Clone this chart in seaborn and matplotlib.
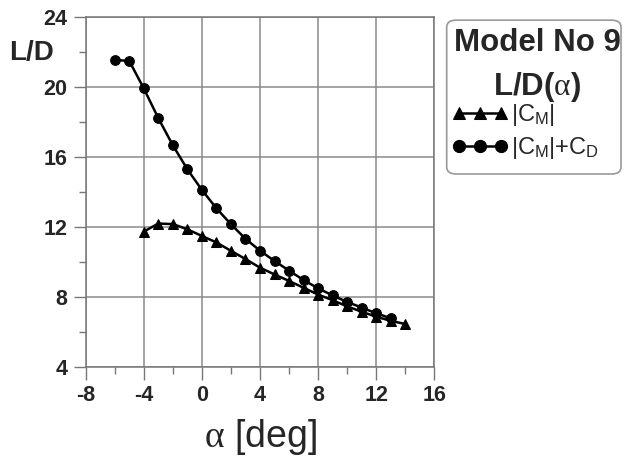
import matplotlib
matplotlib.use("Agg")
import matplotlib.pyplot as plt
import seaborn as sns
import numpy as np
import pandas as pd
from matplotlib.patches import FancyBboxPatch
from matplotlib.ticker import MultipleLocator

# ---- data ----
alpha_cm = [-4, -3, -2, -1, 0, 1, 2, 3, 4, 5, 6, 7, 8, 9, 10, 11, 12, 13, 14]
ld_cm = [11.72, 12.18, 12.15, 11.85, 11.47, 11.10, 10.62, 10.15, 9.66, 9.27,
         8.90, 8.51, 8.12, 7.80, 7.45, 7.14, 6.86, 6.62, 6.44]

alpha_cmcd = [-6, -5, -4, -3, -2, -1, 0, 1, 2, 3, 4, 5, 6, 7, 8, 9, 10, 11, 12, 13]
ld_cmcd = [21.53, 21.47, 19.90, 18.20, 16.65, 15.28, 14.10, 13.05, 12.14, 11.31,
           10.63, 10.04, 9.49, 8.95, 8.48, 8.07, 7.70, 7.38, 7.05, 6.77]

label_cm = r"|C$_{\rm M}$|"
label_cmcd = r"|C$_{\rm M}$|+C$_{\rm D}$"
title_lines = ["Model No 9", r"L/D($\alpha$)"]
xlabel = r"$\alpha$ [deg]"
ylabel = "L/D"
xticks = [-8, -4, 0, 4, 8, 12, 16]
yticks = [4, 8, 12, 16, 20, 24]

sns.set_theme(style="white")
plt.rcParams["font.family"] = ["Liberation Sans", "DejaVu Sans"]
plt.rcParams["mathtext.fontset"] = "custom"
plt.rcParams["mathtext.rm"] = "Liberation Sans"
plt.rcParams["mathtext.it"] = "Liberation Serif"
plt.rcParams["mathtext.bf"] = "Liberation Sans:bold"

fig = plt.figure(figsize=(6.28, 4.67), dpi=100)
ax = fig.add_axes([85.7 / 628, 1 - 366.7 / 467, (434.3 - 85.7) / 628, (366.7 - 16.7) / 467])

df1 = pd.DataFrame({"alpha": alpha_cm, "ld": ld_cm})
df2 = pd.DataFrame({"alpha": alpha_cmcd, "ld": ld_cmcd})

sns.lineplot(data=df1, x="alpha", y="ld", ax=ax, color="black", marker="^",
             markersize=6.5, markeredgecolor="black", linewidth=1.8, label=label_cm)
sns.lineplot(data=df2, x="alpha", y="ld", ax=ax, color="black", marker="o",
             markersize=7, markeredgecolor="black", linewidth=1.8, label=label_cmcd)

ax.set_xlim(-8, 16)
ax.set_ylim(4, 24)
ax.set_xticks(xticks)
ax.set_yticks(yticks)
ax.xaxis.set_minor_locator(MultipleLocator(2))
ax.yaxis.set_minor_locator(MultipleLocator(2))
ax.set_xticklabels([str(t) for t in xticks], fontsize=15.5, fontweight="bold")
ax.set_yticklabels([str(t) for t in yticks], fontsize=15.5, fontweight="bold")
ax.tick_params(axis="both", which="major", direction="out", length=9, width=1,
               color="#777777", pad=4, bottom=True, left=True)
ax.tick_params(axis="both", which="minor", direction="out", length=4.8, width=1,
               color="#777777", bottom=True, left=True)
ax.grid(True, which="major", color="#8a8a8a", linewidth=1.1)
for s in ax.spines.values():
    s.set_color("#777777")
    s.set_linewidth(1.1)

ax.set_xlabel(xlabel, fontsize=27, labelpad=8)
ax.set_ylabel(ylabel, fontsize=20, fontweight="bold", rotation=0)
ax.yaxis.set_label_coords(-0.155, 0.895)
ax.yaxis.label.set_ha("center")
ax.yaxis.label.set_va("center")

# legend box
ax.get_legend().remove()
box = FancyBboxPatch((446.7 / 628, 1 - 174 / 467), (627.3 - 446.7) / 628 - 0.01,
                     (174 - 18.3) / 467 - 0.004,
                     boxstyle="round,pad=0,rounding_size=0.015",
                     transform=fig.transFigure, facecolor="white",
                     edgecolor="#999999", linewidth=1.2)
fig.patches.append(box)
fig.text(537 / 628, 1 - 43.3 / 467, title_lines[0], fontsize=22.5,
         fontweight="bold", ha="center", va="center")
fig.text(537 / 628, 1 - 86.7 / 467, title_lines[1], fontsize=22.5,
         fontweight="bold", ha="center", va="center")
handles, labels = ax.get_legend_handles_labels()
fig.legend(handles, labels, loc="upper left",
           bbox_to_anchor=(451.7 / 628, 1 - 102 / 467),
           frameon=False, fontsize=17, numpoints=3, handlelength=2.4,
           handletextpad=0.1, labelspacing=0.3, borderpad=0, borderaxespad=0,
           markerscale=1.25)

fig.savefig("out.png", dpi=100)
